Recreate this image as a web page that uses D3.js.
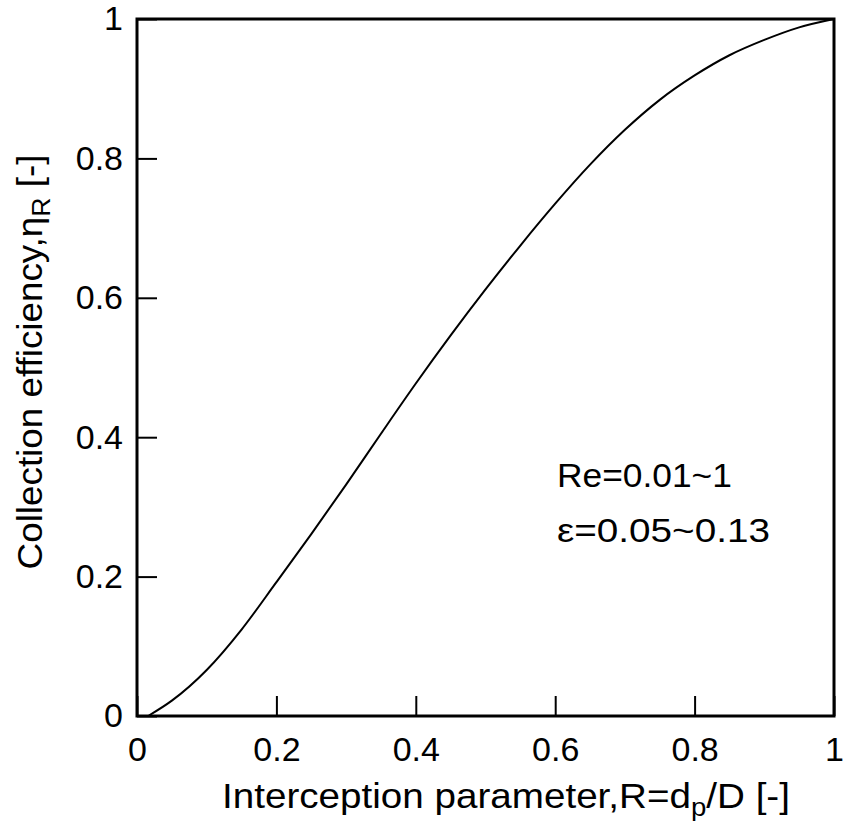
<!DOCTYPE html>
<html>
<head>
<meta charset="utf-8">
<script src="https://cdn.jsdelivr.net/npm/d3@7"></script>
<style>
  html, body { margin: 0; padding: 0; background: #fff; }
  svg { display: block; }
  text { font-family: "Liberation Sans", Arial, Helvetica, sans-serif; fill: #000; }
</style>
</head>
<body>
<svg id="chart" width="845" height="825"></svg>
<script>
// Data
const interceptionR = [0.016, 0.05, 0.10, 0.15, 0.20, 0.25, 0.30, 0.35, 0.40, 0.45, 0.50, 0.55, 0.60, 0.65, 0.70, 0.75, 0.80, 0.85, 0.90, 0.95, 1.00];
const efficiencyEta = [0.000, 0.022, 0.066, 0.124, 0.192, 0.261, 0.332, 0.405, 0.477, 0.546, 0.612, 0.675, 0.735, 0.791, 0.841, 0.884, 0.919, 0.948, 0.970, 0.988, 1.000];
const xTickValues = [0, 0.2, 0.4, 0.6, 0.8, 1];
const yTickValues = [0, 0.2, 0.4, 0.6, 0.8, 1];
const annotationLines = ["Re=0.01~1", "ε=0.05~0.13"];

const svg = d3.select("#chart");
const mLeft = 137, mRight = 834, mTop = 19, mBottom = 716;

const x = d3.scaleLinear().domain([0, 1]).range([mLeft, mRight]);
const y = d3.scaleLinear().domain([0, 1]).range([mBottom, mTop]);

const fmt = d => (d === 0 || d === 1) ? String(d) : d3.format(".1f")(d);

const xAxis = svg.append("g")
  .attr("transform", `translate(0,${mBottom})`)
  .call(d3.axisBottom(x).tickValues(xTickValues).tickFormat(fmt).tickSize(-20).tickPadding(21));
const yAxis = svg.append("g")
  .attr("transform", `translate(${mLeft},0)`)
  .call(d3.axisLeft(y).tickValues(yTickValues).tickFormat(fmt).tickSize(-20).tickPadding(14));

[xAxis, yAxis].forEach(g => {
  g.select(".domain").remove();
  g.selectAll(".tick line").attr("stroke", "#000").attr("stroke-width", 2);
  g.selectAll(".tick text")
    .style("font-family", '"Liberation Sans", Arial, sans-serif')
    .style("font-size", "34px")
    .attr("fill", "#000");
});

// frame
svg.append("rect")
  .attr("x", mLeft).attr("y", mTop)
  .attr("width", mRight - mLeft).attr("height", mBottom - mTop)
  .attr("fill", "none").attr("stroke", "#000").attr("stroke-width", 3);

// curve
const pts = interceptionR.map((r, i) => [r, efficiencyEta[i]]);
svg.append("path")
  .datum(pts)
  .attr("fill", "none")
  .attr("stroke", "#000")
  .attr("stroke-width", 2)
  .attr("d", d3.line().x(d => x(d[0])).y(d => y(d[1])).curve(d3.curveMonotoneX));

// helper: stretch a text element horizontally (in its own frame) to a target length
function stretchTo(sel, baseTransform, target) {
  const len = sel.node().getComputedTextLength();
  const s = target / len;
  sel.attr("transform", `${baseTransform} scale(${s},1)`);
}

// x axis title
const xt = svg.append("text")
  .attr("text-anchor", "middle")
  .style("font-size", "35px");
xt.append("tspan").text("Interception parameter,R=d");
xt.append("tspan").attr("dy", 8).style("font-size", "25px").text("p");
xt.append("tspan").attr("dy", -8).text("/D [-]");
stretchTo(xt, "translate(506,808)", 568);

// y axis title
const yt = svg.append("text")
  .attr("text-anchor", "middle")
  .style("font-size", "36px");
yt.append("tspan").text("Collection efficiency,η");
yt.append("tspan").attr("dy", 8).style("font-size", "26px").text("R");
yt.append("tspan").attr("dy", -8).text(" [-]");
stretchTo(yt, "translate(42,362) rotate(-90)", 415);

// annotation
const annTargets = [175, 213];
svg.selectAll("text.ann")
  .data(annotationLines)
  .join("text")
  .attr("class", "ann")
  .style("font-size", "34px")
  .text(d => d)
  .each(function(d, i) {
    stretchTo(d3.select(this), `translate(557,${487 + i * 55})`, annTargets[i]);
  });
</script>
</body>
</html>
